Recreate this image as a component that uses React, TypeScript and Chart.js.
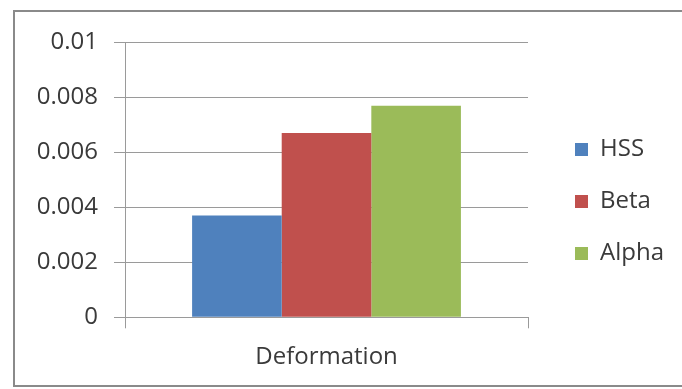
import React, { useEffect, useRef } from "react";
import { Chart, registerables } from "chart.js";

Chart.register(...registerables);

const categories = ["Deformation"];
const seriesNames = ["HSS", "Beta", "Alpha"];
const hssValues = [0.0037];
const betaValues = [0.0067];
const alphaValues = [0.0077];
const seriesColors = ["#4F81BD", "#C0504D", "#9BBB59"];
const yTickLabels = ["0", "0.002", "0.004", "0.006", "0.008", "0.01"];

const FONT = "'Open Sans', 'Liberation Sans', sans-serif";
const FS = 24;
const TEXT = "#3a3a3a";
const GRID = "#9a9a9a";
const FRAME = "#8a8a8a";

export default function App() {
  const ref = useRef<HTMLCanvasElement | null>(null);

  useEffect(() => {
    if (!ref.current) return;
    const chart = new Chart(ref.current, {
      type: "bar",
      data: {
        labels: categories,
        datasets: [
          { label: seriesNames[0], data: hssValues, backgroundColor: seriesColors[0], borderWidth: 0 },
          { label: seriesNames[1], data: betaValues, backgroundColor: seriesColors[1], borderWidth: 0 },
          { label: seriesNames[2], data: alphaValues, backgroundColor: seriesColors[2], borderWidth: 0 },
        ],
      },
      options: {
        responsive: false,
        animation: false,
        devicePixelRatio: 1,
        datasets: { bar: { barPercentage: 1, categoryPercentage: 0.667 } },
        layout: { padding: { left: 0, top: 6, bottom: 0, right: 8 } },
        plugins: {
          tooltip: { enabled: false },
          legend: {
            position: "right",
            align: "center",
            maxWidth: 220,
            labels: {
              boxWidth: 13,
              boxHeight: 13,
              padding: 28,
              color: TEXT,
              font: { family: FONT, size: FS },
            },
          },
        },
        scales: {
          x: {
            position: "bottom",
            offset: true,
            afterFit: (s: any) => { s.height = 67.7; },
            grid: { display: true, offset: true, drawOnChartArea: false, drawTicks: true, tickLength: 11, color: GRID },
            border: { display: true, color: GRID },
            ticks: { color: TEXT, padding: 14, font: { family: FONT, size: FS } },
          },
          xTop: {
            type: "category",
            position: "top",
            labels: categories,
            afterFit: (s: any) => { s.height = 23.7; },
            grid: { display: false },
            border: { display: false },
            ticks: { display: false },
          },
          y: {
            position: "left",
            min: 0,
            max: 0.01,
            afterFit: (s: any) => { s.width = 110; },
            grid: { color: GRID, tickLength: 11 },
            border: { display: true, color: GRID },
            ticks: {
              stepSize: 0.002,
              padding: 16,
              color: TEXT,
              font: { family: FONT, size: FS },
              callback: (_v: any, i: number) => yTickLabels[i],
            },
          },
          yRight: {
            position: "right",
            min: 0,
            max: 1,
            afterFit: (s: any) => { s.width = 19; },
            grid: { display: false },
            border: { display: false },
            ticks: { display: false },
          },
        },
      },
    });
    return () => chart.destroy();
  }, []);

  return (
    <div style={{ position: "absolute", left: 0, top: 0, width: 682, height: 389, background: "#fff" }}>
      <div style={{ position: "absolute", left: 13, top: 10, width: 669, height: 2, background: FRAME }} />
      <div style={{ position: "absolute", left: 13, top: 10, width: 2, height: 377, background: FRAME }} />
      <div style={{ position: "absolute", left: 13, top: 385, width: 669, height: 2, background: FRAME }} />
      <canvas
        ref={ref}
        width={667}
        height={373}
        style={{ position: "absolute", left: 15, top: 12, width: 667, height: 373 }}
      />
    </div>
  );
}
